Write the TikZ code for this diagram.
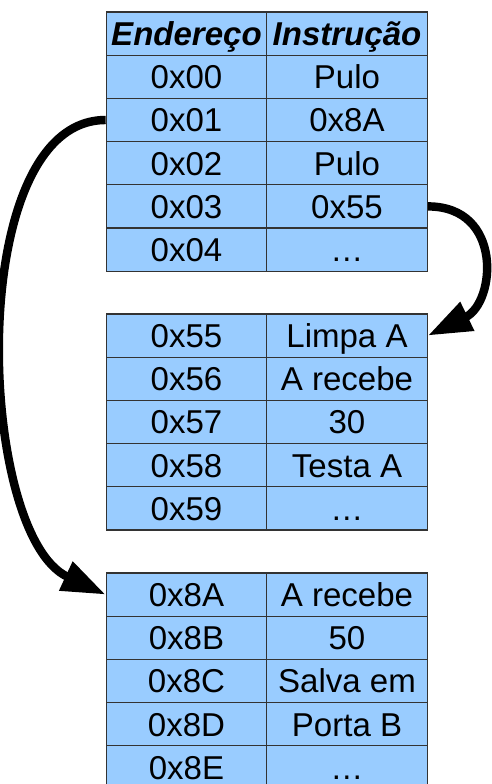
\documentclass[tikz,border=0pt]{standalone}
\usepackage{fontspec}
\setmainfont{Liberation Sans}
\usetikzlibrary{arrows.meta}

\definecolor{cellblue}{RGB}{153,204,255}

\begin{document}
\begin{tikzpicture}[cell/.style={draw=black!80, line width=0.9pt, fill=cellblue, minimum width=4.01cm, minimum height=1.08cm, inner sep=0pt, text height=17pt, text depth=0pt, font=\fontsize{23.5}{28}\selectfont},
    head/.style={cell, font=\fontsize{23.5}{28}\selectfont\bfseries\itshape},
    jump/.style={-{Triangle[length=1.1cm,width=0.75cm]}, line width=6pt}]

            \useasboundingbox (0,0) rectangle (12.3,-19.6);

            % Table 1
            \node[head] (ha) at (4.6625,-0.84) {Endereço};
            \node[head] (hi) at (8.675,-0.84) {Instrução};
            \node[cell] (a00) at (4.6625,-1.92) {0x00};
            \node[cell] (i00) at (8.675,-1.92) {Pulo};
            \node[cell] (a01) at (4.6625,-3.00) {0x01};
            \node[cell] (i01) at (8.675,-3.00) {0x8A};
            \node[cell] (a02) at (4.6625,-4.08) {0x02};
            \node[cell] (i02) at (8.675,-4.08) {Pulo};
            \node[cell] (a03) at (4.6625,-5.16) {0x03};
            \node[cell] (i03) at (8.675,-5.16) {0x55};
            \node[cell] (a04) at (4.6625,-6.24) {0x04};
            \node[cell] (i04) at (8.675,-6.24) {…};

            % Table 2
            \node[cell] (a55) at (4.6625,-8.39) {0x55};
            \node[cell] (i55) at (8.675,-8.39) {Limpa A};
            \node[cell] (a56) at (4.6625,-9.47) {0x56};
            \node[cell] (i56) at (8.675,-9.47) {A recebe};
            \node[cell] (a57) at (4.6625,-10.55) {0x57};
            \node[cell] (i57) at (8.675,-10.55) {30};
            \node[cell] (a58) at (4.6625,-11.63) {0x58};
            \node[cell] (i58) at (8.675,-11.63) {Testa A};
            \node[cell] (a59) at (4.6625,-12.71) {0x59};
            \node[cell] (i59) at (8.675,-12.71) {…};

            % Table 3
            \node[cell] (a8A) at (4.6625,-14.865) {0x8A};
            \node[cell] (i8A) at (8.675,-14.865) {A recebe};
            \node[cell] (a8B) at (4.6625,-15.945) {0x8B};
            \node[cell] (i8B) at (8.675,-15.945) {50};
            \node[cell] (a8C) at (4.6625,-17.025) {0x8C};
            \node[cell] (i8C) at (8.675,-17.025) {Salva em};
            \node[cell] (a8D) at (4.6625,-18.105) {0x8D};
            \node[cell] (i8D) at (8.675,-18.105) {Porta B};
            \node[cell] (a8E) at (4.6625,-19.185) {0x8E};
            \node[cell] (i8E) at (8.675,-19.185) {…};

            % Jumps
            \draw[jump] (a01.west) to[out=180, in=155, looseness=0.77] (a8A.west);
            \draw[jump] (i03.east) to[out=0, in=26, looseness=1.5] (i55.east);
            \end{tikzpicture}
\end{document}
